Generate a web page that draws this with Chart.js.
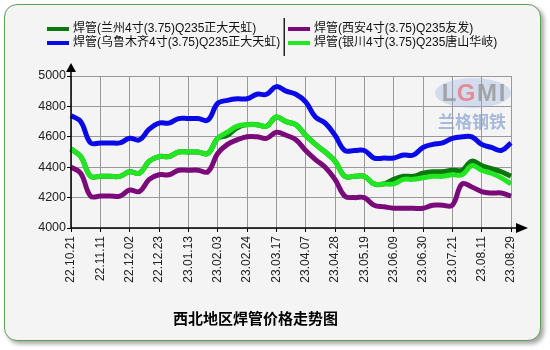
<!DOCTYPE html>
<html>
<head>
<meta charset="utf-8">
<script src="https://cdn.jsdelivr.net/npm/chart.js@4.4.0/dist/chart.umd.min.js"></script>
<style>
  html, body { margin: 0; padding: 0; background: #fff; }
  #wrap { position: relative; width: 550px; height: 350px; }
  #frame { position: absolute; left: 4px; top: 4px; width: 535px; height: 335px;
    border: 1.5px solid #5e9e5e; border-radius: 13px; background: #f4f4f4;
    box-shadow: 3px 3px 4px rgba(0,0,0,0.35); }
  canvas { position: absolute; left: 0; top: 0; }
</style>
</head>
<body>
<div id="wrap"><div id="frame"></div><canvas id="c" width="550" height="350"></canvas></div>
<script>
// dates (weekly), only every 3rd one is labelled on the axis
const dates = ['22.10.21','22.10.28','22.11.04','22.11.11','22.11.18','22.11.25','22.12.02','22.12.09',
  '22.12.16','22.12.23','22.12.30','23.01.06','23.01.13','23.01.20','23.01.27','23.02.03','23.02.10',
  '23.02.17','23.02.24','23.03.03','23.03.10','23.03.17','23.03.24','23.03.31','23.04.07','23.04.14',
  '23.04.21','23.04.28','23.05.05','23.05.12','23.05.19','23.05.26','23.06.02','23.06.09','23.06.16',
  '23.06.23','23.06.30','23.07.07','23.07.14','23.07.21','23.07.28','23.08.04','23.08.11','23.08.18',
  '23.08.25','23.08.29'];

const lanzhou = [4520,4470,4340,4340,4340,4340,4370,4360,4440,4470,4470,4500,4500,4500,4490,4590,4610,
  4660,4680,4680,4670,4730,4700,4680,4610,4550,4500,4440,4340,4340,4340,4290,4290,4320,4340,4340,4360,
  4370,4370,4380,4380,4440,4410,4390,4370,4340];
const wulumuqi = [4740,4700,4560,4560,4560,4560,4590,4580,4650,4690,4690,4720,4720,4720,4710,4820,4840,
  4850,4850,4880,4880,4930,4900,4880,4830,4730,4690,4610,4510,4510,4510,4460,4460,4460,4480,4480,4530,
  4550,4560,4590,4600,4600,4550,4530,4510,4560];
const xian = [4400,4360,4210,4210,4210,4210,4250,4240,4320,4350,4350,4380,4380,4380,4370,4490,4550,
  4580,4600,4600,4590,4630,4610,4580,4510,4450,4400,4320,4210,4200,4200,4150,4140,4130,4130,4130,4130,
  4150,4150,4150,4290,4270,4240,4230,4230,4210];
const yinchuan = [4520,4470,4340,4340,4340,4340,4370,4360,4440,4470,4470,4500,4500,4500,4490,4590,4630,
  4670,4680,4680,4670,4730,4700,4680,4610,4550,4500,4440,4340,4340,4340,4290,4290,4290,4320,4320,4330,
  4340,4340,4350,4350,4410,4380,4360,4330,4290];

const names = ['焊管(兰州4寸(3.75)Q235正大天虹)', '焊管(乌鲁木齐4寸(3.75)Q235正大天虹)',
  '焊管(西安4寸(3.75)Q235友发)', '焊管(银川4寸(3.75)Q235唐山华岐)'];
const colors = ['#0a780a', '#0a0ae6', '#7a0a7a', '#22e622'];
const yMin = 4000, yMax = 5000, yStep = 200;
const titleText = '西北地区焊管价格走势图';

const FONT = '"Liberation Sans", Arial, "Noto Sans CJK SC", sans-serif';

function makeSet(i, data, order) {
  return { label: names[i], data: data, borderColor: colors[i], backgroundColor: colors[i],
    borderWidth: 5, pointRadius: 0, tension: 0.4, fill: false, order: order };
}

// legend in two columns with a separator
const legendPlugin = {
  id: 'twoColLegend',
  afterDraw(chart) {
    const ctx = chart.ctx;
    ctx.save();
    ctx.font = '12px ' + FONT;
    ctx.textBaseline = 'middle';
    chart.data.datasets.forEach((ds, i) => {
      const col = Math.floor(i / 2), row = i % 2;
      const x = col ? 288 : 47, y = 29 + row * 14;
      ctx.fillStyle = ds.borderColor;
      ctx.fillRect(x, y - 2, 22, 4);
      ctx.fillStyle = '#111';
      ctx.fillText(ds.label, x + 26, y);
    });
    ctx.fillStyle = '#222';
    ctx.fillRect(283.5, 18, 1.5, 38);
    ctx.restore();
  }
};

// watermark logo
const logoPlugin = {
  id: 'logo',
  beforeDatasetsDraw(chart) {
    const ctx = chart.ctx, a = chart.chartArea;
    const cx = a.right - 38, cy = a.top + 17;
    ctx.save();
    ctx.beginPath();
    ctx.ellipse(cx, cy, 38, 15, 0, 0, Math.PI * 2);
    ctx.fillStyle = 'rgba(150,175,220,0.35)';
    ctx.fill();
    ctx.font = 'bold 24px ' + FONT;
    ctx.textAlign = 'center';
    ctx.textBaseline = 'middle';
    ctx.fillStyle = 'rgba(150,150,150,0.8)';
    ctx.fillText('L', cx - 24, cy + 1);
    ctx.fillStyle = 'rgba(230,120,130,0.8)';
    ctx.fillText('G', cx - 7, cy + 1);
    ctx.fillStyle = 'rgba(150,150,150,0.8)';
    ctx.fillText('M', cx + 14, cy + 1);
    ctx.fillText('I', cx + 29, cy + 1);
    ctx.font = 'bold 17px "Noto Sans CJK SC", sans-serif';
    ctx.fillStyle = 'rgba(140,165,210,0.75)';
    ctx.fillText('兰格钢铁', cx - 1, cy + 29);
    ctx.restore();
  }
};

// black axes with arrow heads
const axesPlugin = {
  id: 'arrowAxes',
  afterDraw(chart) {
    const ctx = chart.ctx, a = chart.chartArea;
    ctx.save();
    ctx.strokeStyle = '#000';
    ctx.fillStyle = '#000';
    ctx.lineWidth = 1.5;
    ctx.beginPath();
    ctx.moveTo(a.left, a.bottom);
    ctx.lineTo(a.left, a.top - 4);
    ctx.moveTo(a.left, a.bottom);
    ctx.lineTo(a.right + 5, a.bottom);
    ctx.stroke();
    ctx.beginPath();
    ctx.moveTo(a.left, a.top - 13);
    ctx.lineTo(a.left - 5, a.top - 4);
    ctx.lineTo(a.left + 5, a.top - 4);
    ctx.closePath();
    ctx.fill();
    ctx.beginPath();
    ctx.moveTo(a.right + 17, a.bottom);
    ctx.lineTo(a.right + 5, a.bottom - 5);
    ctx.lineTo(a.right + 5, a.bottom + 5);
    ctx.closePath();
    ctx.fill();
    ctx.restore();
  }
};

new Chart(document.getElementById('c').getContext('2d'), {
  type: 'line',
  data: {
    labels: dates,
    datasets: [
      makeSet(0, lanzhou, 1),
      makeSet(1, wulumuqi, 2),
      makeSet(2, xian, 3),
      makeSet(3, yinchuan, 0)
    ]
  },
  options: {
    responsive: false,
    animation: false,
    layout: { padding: { left: 0, top: 76, right: 39, bottom: 13 } },
    plugins: {
      legend: { display: false },
      tooltip: { enabled: false },
      title: {
        display: true, text: titleText, position: 'bottom', color: '#000',
        font: { family: '"Noto Sans CJK SC", sans-serif', size: 15, weight: 'bold' },
        padding: { top: 11, bottom: 10 }
      }
    },
    scales: {
      x: {
        offset: false,
        border: { display: false },
        grid: { color: '#999', borderDash: [1, 2], tickLength: 4, tickColor: '#000', tickBorderDash: [] },
        ticks: { autoSkip: false, minRotation: 90, maxRotation: 90, padding: 4, color: '#222',
          font: { family: FONT, size: 12 } },
        afterBuildTicks: s => { s.ticks = s.ticks.filter(t => t.value % 3 === 0); },
        afterFit: s => { s.height = 70; }
      },
      y: {
        min: yMin, max: yMax,
        border: { display: false },
        grid: { color: '#999', borderDash: [1, 2], tickLength: 4, tickColor: '#000', tickBorderDash: [] },
        ticks: { stepSize: yStep, padding: 1, color: '#222', font: { family: FONT, size: 12.5 },
          callback: v => String(v) },
        afterFit: s => { s.width = 71; }
      }
    }
  },
  plugins: [logoPlugin, legendPlugin, axesPlugin]
});
</script>
</body>
</html>
